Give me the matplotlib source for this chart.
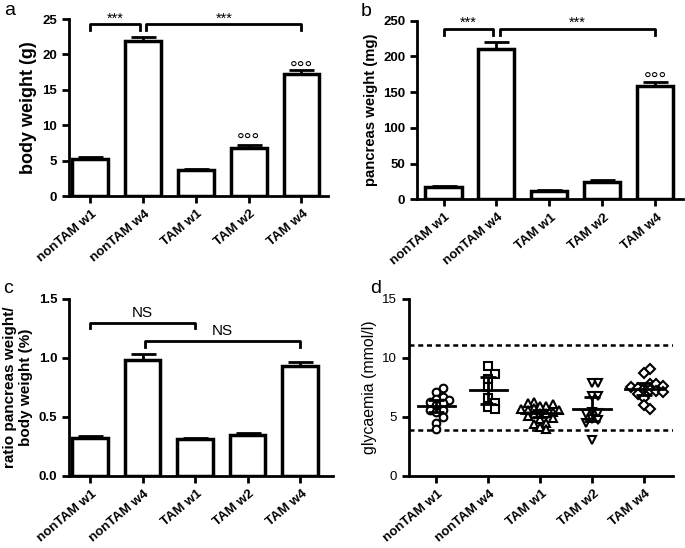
import matplotlib
matplotlib.use("Agg")
import matplotlib.pyplot as plt
import matplotlib.transforms as mtransforms
import numpy as np

plt.rcParams['font.family'] = ['Liberation Sans', 'DejaVu Sans']

groups = ['nonTAM w1', 'nonTAM w4', 'TAM w1', 'TAM w2', 'TAM w4']

# panel a: body weight (g), mean and SEM
body_mean = [5.2, 21.9, 3.65, 6.75, 17.3]
body_sem = [0.25, 0.6, 0.2, 0.4, 0.55]

# panel b: pancreas weight (mg)
panc_mean = [17, 210, 12, 24.5, 159]
panc_sem = [1.5, 10, 1, 2.2, 4.5]

# panel c: ratio pancreas / body weight (%)
ratio_mean = [0.32, 0.98, 0.31, 0.345, 0.935]
ratio_sem = [0.015, 0.055, 0.012, 0.018, 0.03]

# panel d: glycaemia (mmol/l), individual animals
gly_nonTAM_w1 = [7.46, 7.09, 6.7, 6.5, 6.42, 6.27, 6.2, 6.0, 5.62, 5.57, 5.42, 5.0, 4.49, 3.95]
gly_nonTAM_w4 = [9.34, 8.6, 8.2, 7.56, 6.57, 6.2, 5.85, 5.7]
gly_TAM_w1 = [6.25, 6.2, 6.06, 5.94, 5.9, 5.75, 5.7, 5.6, 5.55, 5.45,
              5.3, 5.3, 5.25, 5.1, 4.88, 4.8, 4.45, 4.36, 4.16, 3.94]
gly_TAM_w2 = [7.85, 7.9, 6.8, 6.8, 5.4, 5.3, 5.2, 4.8, 4.7, 4.5, 3.05]
gly_TAM_w4 = [9.1, 8.7, 7.8, 7.75, 7.6, 7.55, 7.45, 7.35, 7.3, 7.2, 7.1, 6.95, 6.6, 6.0, 5.65]
gly_ci = [0.5, 1.15, 0.28, 1.0, 0.5]
gly_limits = [3.9, 11.1]

gly_all = [gly_nonTAM_w1, gly_nonTAM_w4, gly_TAM_w1, gly_TAM_w2, gly_TAM_w4]
gly_markers = ['o', 's', '^', 'v', 'D']


def style_axis(ax, bold_y=True):
    for s in ['top', 'right']:
        ax.spines[s].set_visible(False)
    for s in ['left', 'bottom']:
        ax.spines[s].set_linewidth(2)
    ax.tick_params(direction='out', length=5, width=2, labelsize=9.5)
    ax.tick_params(axis='x', pad=7)
    ax.set_xticks(range(len(groups)))
    ax.set_xticklabels(groups, rotation=40, ha='right', va='center',
                       rotation_mode='anchor', fontweight='bold', fontsize=9.5)
    shift = mtransforms.ScaledTranslation(0.05, 0, fig.dpi_scale_trans)
    for t in ax.get_xticklabels():
        t.set_transform(t.get_transform() + shift)
    for t in ax.get_yticklabels():
        t.set_fontweight('bold' if bold_y else 'normal')


def bar_panel(ax, mean, sem, ylim, yticks, ylabel, lsize):
    x = np.arange(len(groups))
    ax.bar(x, mean, width=0.68, color='white', edgecolor='black', linewidth=2.5, zorder=2)
    ax.errorbar(x, mean, yerr=[np.zeros(len(sem)), sem], fmt='none', ecolor='black',
                elinewidth=2, capsize=9, capthick=2, zorder=3)
    ax.set_ylim(*ylim)
    ax.set_yticks(yticks)
    ax.set_ylabel(ylabel, fontsize=lsize, fontweight='bold')
    style_axis(ax)


def bracket(ax, x1, x2, y, h, label, ty, fs=10.5):
    ax.plot([x1, x1, x2, x2], [y - h, y, y, y - h], color='black', lw=2, clip_on=False)
    ax.text((x1 + x2) / 2, ty, label, ha='center', va='center', fontsize=fs, clip_on=False)


def circles(ax, x, y):
    # 'ooo' marks, y is the baseline
    ax.text(x, y, '°°°', ha='center', va='baseline', fontsize=14, clip_on=False)


fig = plt.figure(figsize=(6.85, 5.48), dpi=100)
ax_a = fig.add_axes([0.1007, 0.6423, 0.378, 0.323])
ax_b = fig.add_axes([0.6088, 0.6363, 0.388, 0.326])
ax_c = fig.add_axes([0.1007, 0.1319, 0.385, 0.3225])
ax_d = fig.add_axes([0.597, 0.1319, 0.3854, 0.3225])

# a
bar_panel(ax_a, body_mean, body_sem, (0, 25), [0, 5, 10, 15, 20, 25], 'body weight (g)', 13)
ax_a.set_xlim(-0.4, 4.5)
bracket(ax_a, 0, 0.94, 24.25, 0.85, '***', 25.1)
bracket(ax_a, 1.06, 4, 24.25, 0.85, '***', 25.1)
circles(ax_a, 3, 7.05)
circles(ax_a, 4, 17.25)

# b
bar_panel(ax_b, panc_mean, panc_sem, (0, 250), [0, 50, 100, 150, 200, 250],
          'pancreas weight (mg)', 10.7)
ax_b.set_xlim(-0.5, 4.52)
bracket(ax_b, 0, 0.94, 238, 8, '***', 247)
bracket(ax_b, 1.06, 4, 238, 8, '***', 247)
circles(ax_b, 4, 160)

# c
bar_panel(ax_c, ratio_mean, ratio_sem, (0, 1.5), [0.0, 0.5, 1.0, 1.5],
          'ratio pancreas weight/\nbody weight (%)', 11)
ax_c.set_yticklabels(['0.0', '0.5', '1.0', '1.5'], fontweight='bold')
ax_c.set_xlim(-0.4, 4.62)
bracket(ax_c, 0, 2, 1.30, 0.05, 'NS', 1.38, fs=11)
bracket(ax_c, 1.05, 4, 1.146, 0.05, 'NS', 1.228, fs=11)

# d
xs_px, ys_px = 52.0, 11.78
for i, (vals, m) in enumerate(zip(gly_all, gly_markers)):
    # simple beeswarm so the dots do not overlap too much
    placed = []
    order = np.argsort(np.abs(np.array(vals) - np.mean(vals)))
    xo = np.zeros(len(vals))
    for k in order:
        v = vals[k]
        for step in [0, 1, -1, 2, -2, 3, -3, 4, -4]:
            dx = step * 0.12
            ok = all(np.hypot((dx - px) * xs_px, (v - py) * ys_px) > 5.5 for px, py in placed)
            if ok:
                break
        placed.append((dx, v))
        xo[k] = dx
    ms = 5.5 if m != 'D' else 4.8
    ax_d.plot(i + xo, vals, linestyle='none', marker=m, ms=ms, mfc='white', mec='black',
              mew=1.5, zorder=3)
    mu = np.mean(vals)
    ax_d.plot([i - 0.36, i + 0.36], [mu, mu], color='black', lw=2, zorder=4)
    ax_d.errorbar([i], [mu], yerr=[gly_ci[i]], fmt='none', ecolor='black', elinewidth=2,
                  capsize=6, capthick=2, zorder=4)
for lim in gly_limits:
    ax_d.axhline(lim, color='black', lw=1.8, linestyle=(0, (2, 1.5)), zorder=1)
ax_d.set_xlim(-0.53, 4.56)
ax_d.set_ylim(0, 15)
ax_d.set_yticks([0, 5, 10, 15])
ax_d.set_ylabel('glycaemia (mmol/l)', fontsize=11.4)
style_axis(ax_d, bold_y=False)

fig.text(0.006, 0.997, 'a', fontsize=14, va='top')
fig.text(0.527, 0.995, 'b', fontsize=14, va='top')
fig.text(0.004, 0.489, 'c', fontsize=14, va='top')
fig.text(0.541, 0.489, 'd', fontsize=14, va='top')

fig.savefig('out.png', dpi=100)
